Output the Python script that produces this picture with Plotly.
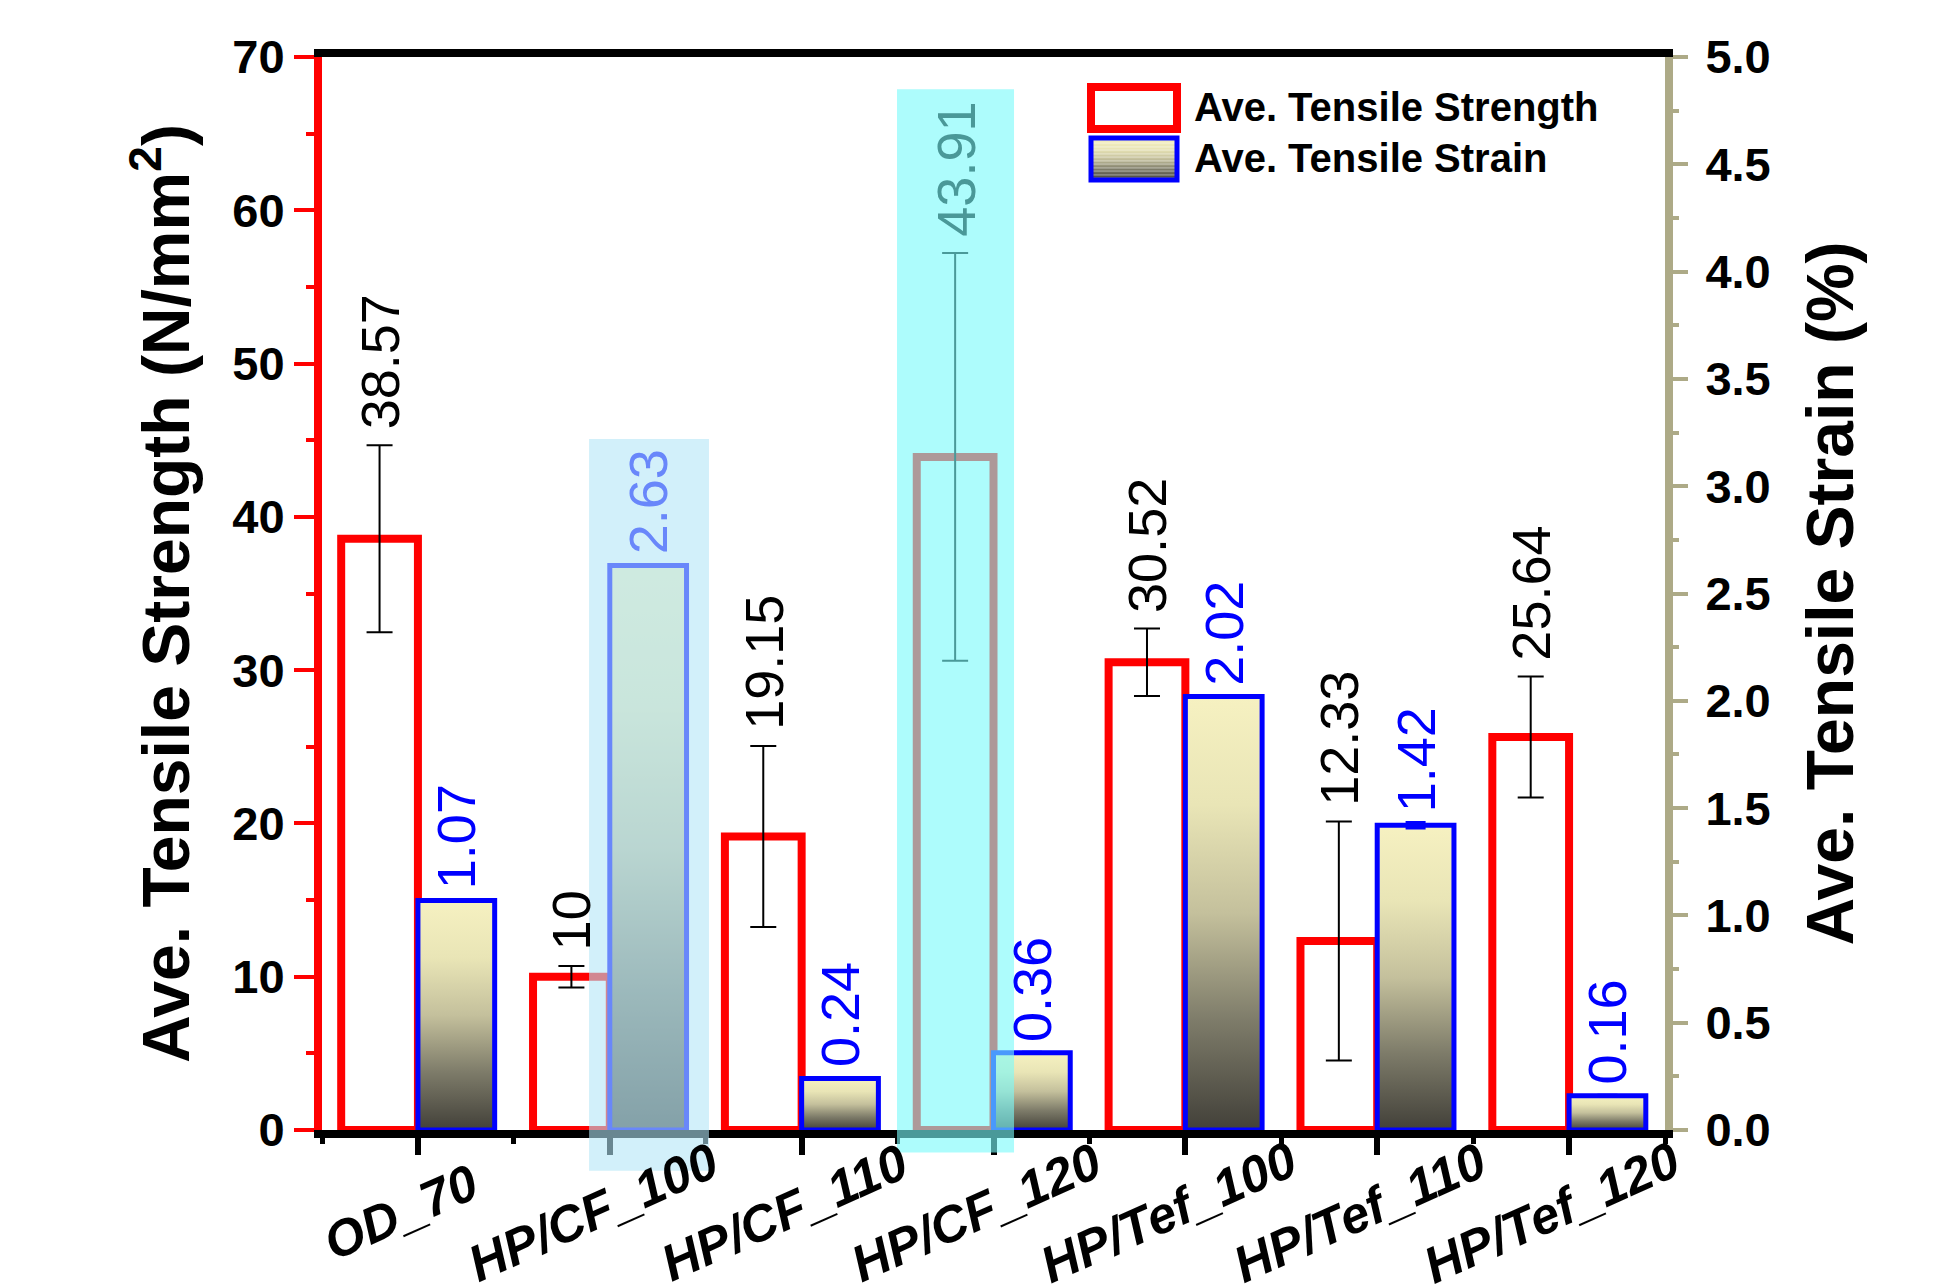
import plotly.graph_objects as go

# ---- data -------------------------------------------------------------
categories = ["OD_70", "HP/CF_100", "HP/CF_110", "HP/CF_120",
              "HP/Tef_100", "HP/Tef_110", "HP/Tef_120"]
strength = [38.57, 10, 19.15, 43.91, 30.52, 12.33, 25.64]      # N/mm^2
strength_err = [6.1, 0.7, 5.9, 13.3, 2.2, 7.8, 3.95]
strain = [1.07, 2.63, 0.24, 0.36, 2.02, 1.42, 0.16]             # %
strain_err = [0, 0, 0, 0, 0, 0.01, 0]
strength_ticks = [0, 10, 20, 30, 40, 50, 60, 70]
strain_ticks = [0.0, 0.5, 1.0, 1.5, 2.0, 2.5, 3.0, 3.5, 4.0, 4.5, 5.0]

# ---- styling ------------------------------------------------------------
W, H = 1937, 1287
ML, MR, MT, MB = 322, 272, 57, 157
FONT = "Liberation Sans, Arial, sans-serif"
RED = "#FF0000"
BLUE = "#0000FF"
KHAKI = "#ADAA87"
GRAD = [[0.0, "rgb(66,64,57)"], [0.25, "rgb(125,123,105)"],
        [0.5, "rgb(196,192,156)"], [0.75, "rgb(233,229,182)"],
        [1.0, "rgb(246,241,193)"]]

# highlight boxes: (x0, x1) in category units, (y0, y1) in paper units
HL_BLUE = dict(rgb=(178, 229, 246), a=0.59, x=(0.892, 1.517), y=(-0.038, 0.644))
HL_CYAN = dict(rgb=(121, 250, 250), a=0.61, x=(2.497, 3.107), y=(-0.021, 0.970))

PW = W - ML - MR
PH = H - MT - MB


def px_x(px):
    return (px - ML) / PW


def px_y(py):
    return (H - MB - py) / PH


def blend(base, hl):
    r, g, b = hl["rgb"]
    a = hl["a"]
    return "rgb(%d,%d,%d)" % tuple(round(c0 * (1 - a) + c1 * a)
                                   for c0, c1 in zip(base, (r, g, b)))


def under(xc, hl):
    return hl["x"][0] <= xc <= hl["x"][1]


x = list(range(len(categories)))
fig = go.Figure()

# strength bars (open red boxes with error bars)
fig.add_trace(go.Bar(
    x=x, y=strength, width=0.4, offset=-0.4, yaxis="y",
    marker=dict(color="white", line=dict(color=RED, width=8)),
    error_y=dict(type="data", array=strength_err, color="black",
                 thickness=2, width=13),
    name="Ave. Tensile Strength", showlegend=False, hoverinfo="x+y"))

# gradient fill of the strain bars
for i, v in enumerate(strain):
    fig.add_trace(go.Scatter(
        x=[i, i, i + 0.4, i + 0.4, i], y=[0, v, v, 0, 0], yaxis="y2",
        fill="toself", mode="lines", line=dict(width=0),
        fillgradient=dict(type="vertical", colorscale=GRAD),
        showlegend=False, hoverinfo="skip"))

# strain bar outlines
fig.add_trace(go.Bar(
    x=x, y=strain, width=0.4, offset=0, yaxis="y3",
    marker=dict(color="rgba(0,0,0,0)", line=dict(color=BLUE, width=5)),
    error_y=dict(type="data", array=strain_err, color=BLUE,
                 thickness=4, width=10),
    name="Ave. Tensile Strain", showlegend=False, hoverinfo="x+y"))

annotations = []
# value labels
for i, (v, e) in enumerate(zip(strength, strength_err)):
    xc = i - 0.2
    color = "black"
    for hl in (HL_BLUE, HL_CYAN):
        if under(xc, hl):
            color = blend((0, 0, 0), hl)
    annotations.append(dict(
        x=xc, y=v + e, xref="x", yref="y", text=f"{v:g}", showarrow=False,
        textangle=-90, xanchor="center", yanchor="bottom", yshift=14,
        font=dict(family=FONT, size=54, color=color)))
for i, (v, e) in enumerate(zip(strain, strain_err)):
    xc = i + 0.2
    color = BLUE
    for hl in (HL_BLUE, HL_CYAN):
        if under(xc, hl):
            color = blend((0, 0, 255), hl)
    annotations.append(dict(
        x=xc, y=v + e, xref="x", yref="y2", text=f"{v:g}", showarrow=False,
        textangle=-90, xanchor="center", yanchor="bottom", yshift=9,
        font=dict(family=FONT, size=54, color=color)))

# category labels
for i, c in enumerate(categories):
    annotations.append(dict(
        x=i - 0.09, y=-0.077, xref="x", yref="paper", text=c, showarrow=False,
        textangle=-24, xanchor="center", yanchor="middle", borderpad=0,
        font=dict(family=FONT, size=51, color="black",
                  weight="bold", style="italic")))

# legend text
annotations.append(dict(
    x=px_x(1192), y=px_y(107), xref="paper", yref="paper",
    text="Ave. Tensile Strength", showarrow=False, xanchor="left",
    yanchor="middle", font=dict(family=FONT, size=40, color="black",
                                weight="bold")))
annotations.append(dict(
    x=px_x(1192), y=px_y(158), xref="paper", yref="paper",
    text="Ave. Tensile Strain", showarrow=False, xanchor="left",
    yanchor="middle", font=dict(family=FONT, size=40, color="black",
                                weight="bold")))

shapes = []
# highlight boxes
for hl in (HL_BLUE, HL_CYAN):
    r, g, b = hl["rgb"]
    shapes.append(dict(
        type="rect", xref="x", yref="paper", x0=hl["x"][0], x1=hl["x"][1],
        y0=hl["y"][0], y1=hl["y"][1], layer="above", line=dict(width=0),
        fillcolor=f"rgba({r},{g},{b},{hl['a']})"))

# legend keys
lx0, lx1 = px_x(1091), px_x(1177)
shapes.append(dict(type="rect", xref="paper", yref="paper",
                   x0=lx0, x1=lx1, y0=px_y(129), y1=px_y(87),
                   line=dict(color=RED, width=8), fillcolor="white"))
n_strip = 30
gy0, gy1 = px_y(180), px_y(138)
for k in range(n_strip):
    t = (k + 0.5) / n_strip
    # interpolate gradient stops
    for j in range(len(GRAD) - 1):
        if GRAD[j][0] <= t <= GRAD[j + 1][0]:
            f = (t - GRAD[j][0]) / (GRAD[j + 1][0] - GRAD[j][0])
            c0 = [int(s) for s in GRAD[j][1][4:-1].split(",")]
            c1 = [int(s) for s in GRAD[j + 1][1][4:-1].split(",")]
            col = "rgb(%d,%d,%d)" % tuple(round(a + (b - a) * f)
                                          for a, b in zip(c0, c1))
            break
    shapes.append(dict(type="rect", xref="paper", yref="paper",
                       x0=lx0, x1=lx1,
                       y0=gy0 + (gy1 - gy0) * k / n_strip,
                       y1=gy0 + (gy1 - gy0) * (k + 1) / n_strip,
                       line=dict(width=0), fillcolor=col))
shapes.append(dict(type="rect", xref="paper", yref="paper",
                   x0=lx0, x1=lx1, y0=gy0, y1=gy1,
                   line=dict(color=BLUE, width=5), fillcolor="rgba(0,0,0,0)"))

tick_font = dict(family=FONT, size=47, color="black", weight="bold")
title_font = dict(family=FONT, size=66, color="black", weight="bold")

fig.update_layout(
    width=W, height=H, autosize=False,
    margin=dict(l=ML, r=MR, t=MT, b=MB, pad=0),
    paper_bgcolor="white", plot_bgcolor="white",
    barmode="overlay", showlegend=False,
    font=dict(family=FONT),
    xaxis=dict(
        range=[-0.5, 6.5], tickvals=x, showticklabels=False,
        showgrid=False, zeroline=False,
        showline=True, linecolor="black", linewidth=8, mirror=True,
        ticks="outside", ticklen=17, tickwidth=6, tickcolor="black",
        minor=dict(tickvals=[i - 0.5 for i in x] + [len(x) - 0.5],
                   ticks="outside", ticklen=6, tickwidth=5,
                   tickcolor="black", showgrid=False)),
    yaxis=dict(
        range=[0, 70], tickvals=strength_ticks,
        tickfont=tick_font, showgrid=False, zeroline=False,
        showline=True, linecolor=RED, linewidth=8,
        ticks="outside", ticklen=20, tickwidth=4, tickcolor=RED,
        minor=dict(dtick=5, ticks="outside", ticklen=8, tickwidth=4,
                   tickcolor=RED, showgrid=False),
        title=dict(text="Ave. Tensile Strength (N/mm<sup>2</sup>)",
                   font=title_font, standoff=24)),
    yaxis2=dict(
        range=[0, 5], overlaying="y", side="right", tickvals=strain_ticks,
        tickformat=".1f", tickfont=tick_font, showgrid=False,
        zeroline=False, showline=True, linecolor=KHAKI, linewidth=8,
        ticks="outside", ticklen=15, tickwidth=4, tickcolor=KHAKI,
        ticklabelstandoff=8,
        minor=dict(dtick=0.25, ticks="outside", ticklen=6, tickwidth=4,
                   tickcolor=KHAKI, showgrid=False),
        title=dict(text="Ave. Tensile Strain (%)", font=title_font,
                   standoff=40)),
    yaxis3=dict(range=[0, 5], overlaying="y", visible=False),
    annotations=annotations,
    shapes=shapes,
)

fig.write_html("out.html")
